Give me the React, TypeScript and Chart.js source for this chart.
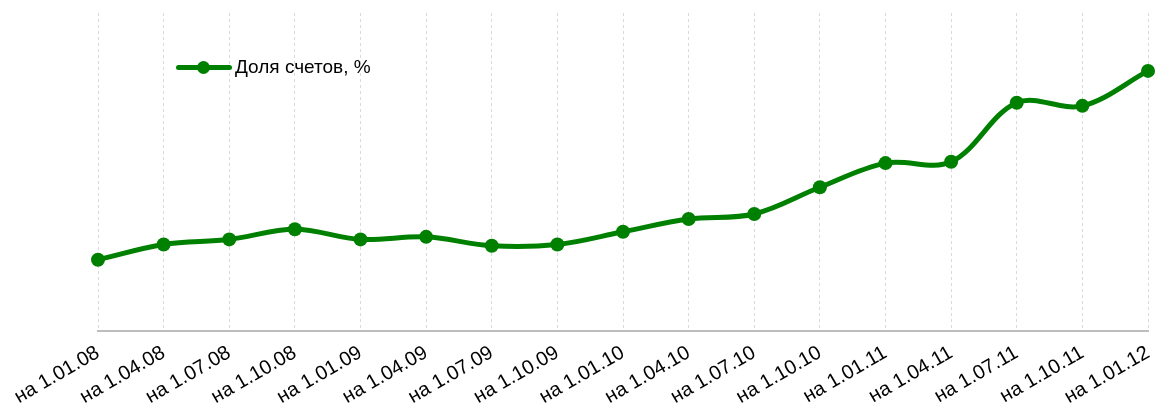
import React, { useEffect, useRef } from "react";
import { Chart, registerables } from "chart.js";

Chart.register(...registerables);

const categories = [
  "на 1.01.08", "на 1.04.08", "на 1.07.08", "на 1.10.08",
  "на 1.01.09", "на 1.04.09", "на 1.07.09", "на 1.10.09",
  "на 1.01.10", "на 1.04.10", "на 1.07.10", "на 1.10.10",
  "на 1.01.11", "на 1.04.11", "на 1.07.11", "на 1.10.11",
  "на 1.01.12",
];

const shareValues = [
  11.2, 13.6, 14.4, 16.0, 14.4, 14.8, 13.4, 13.6,
  15.6, 17.6, 18.4, 22.6, 26.4, 26.6, 35.9, 35.4, 40.9,
];

const seriesName = "Доля счетов, %";
const GREEN = "#008000";
const FONT = "'Liberation Sans', Arial, sans-serif";

export default function App() {
  const canvasRef = useRef<HTMLCanvasElement | null>(null);

  useEffect(() => {
    document.body.style.margin = "0";
    const canvas = canvasRef.current;
    if (!canvas) return;
    const chart = new Chart(canvas, {
      type: "line",
      data: {
        labels: categories,
        datasets: [
          {
            label: seriesName,
            data: shareValues,
            borderColor: GREEN,
            backgroundColor: GREEN,
            borderWidth: 5,
            pointRadius: 7,
            pointHoverRadius: 7,
            pointBackgroundColor: GREEN,
            pointBorderColor: GREEN,
            pointBorderWidth: 0,
            tension: 0.35,
            clip: false,
            fill: false,
          },
        ],
      },
      options: {
        responsive: false,
        animation: false,
        maintainAspectRatio: false,
        layout: { padding: { left: 98, right: 12, top: 13, bottom: 0 } },
        plugins: {
          legend: { display: false },
          tooltip: { enabled: false },
        },
        scales: {
          x: {
            offset: false,
            grid: {
              display: true,
              drawTicks: false,
              color: "#d9d9d9",
              lineWidth: 1,
            },
            border: { display: true, color: "#bdbdbd", width: 2, dash: [3, 3] },
            ticks: {
              color: "#000",
              font: { family: FONT, size: 20 },
              minRotation: 30,
              maxRotation: 30,
              autoSkip: false,
              padding: 10,
            },
            afterFit(scale: any) {
              scale.height = 81;
              scale.paddingLeft = 0;
              scale.paddingRight = 0;
            },
          },
          y: {
            display: false,
            min: 0,
            max: 50,
          },
        },
      },
    });
    return () => chart.destroy();
  }, []);

  return (
    <div style={{ position: "relative", width: 1160, height: 412 }}>
      <canvas ref={canvasRef} width={1160} height={412} style={{ display: "block" }} />
      <div
        style={{
          position: "absolute",
          left: 176,
          top: 56,
          height: 22,
          display: "flex",
          alignItems: "center",
          fontFamily: FONT,
          fontSize: 19,
          color: "#000",
          whiteSpace: "nowrap",
        }}
      >
        <div style={{ position: "relative", width: 56, height: 22, marginRight: 3 }}>
          <div style={{ position: "absolute", left: 0, top: 9, width: 56, height: 5, background: GREEN, borderRadius: 2.5 }} />
          <div style={{ position: "absolute", left: 21, top: 5, width: 13, height: 13, borderRadius: 6.5, background: GREEN }} />
        </div>
        <span>{seriesName}</span>
      </div>
    </div>
  );
}
